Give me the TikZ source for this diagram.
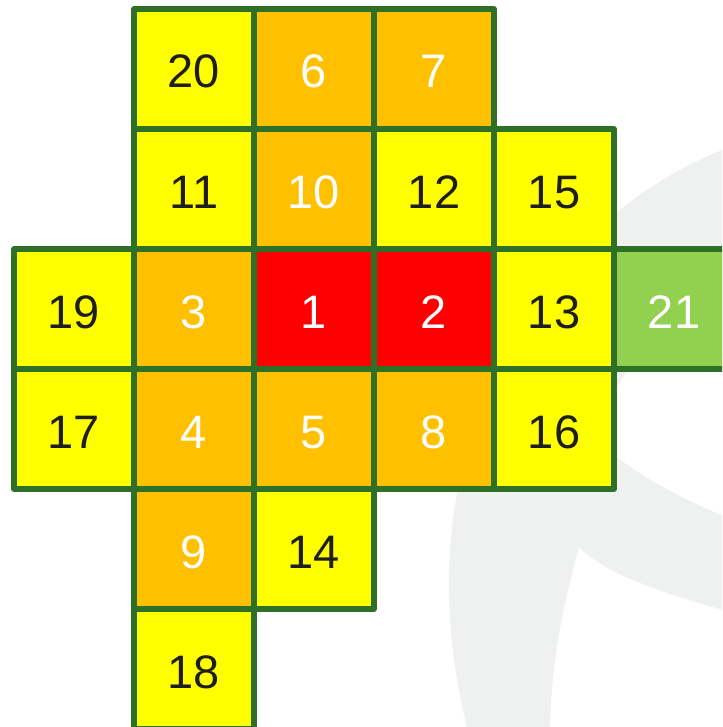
\documentclass[tikz,border=0pt]{standalone}
\usepackage{fontspec}
\setmainfont{Liberation Sans}
\definecolor{gridgreen}{RGB}{46,112,38}
\definecolor{cyel}{RGB}{255,255,0}
\definecolor{cora}{RGB}{255,192,0}
\definecolor{cred}{RGB}{255,0,0}
\definecolor{cgrn}{RGB}{146,208,80}
\definecolor{bggray}{RGB}{239,240,240}
\definecolor{darktxt}{RGB}{30,30,30}
\tikzset{
  cell/.style={draw=gridgreen, line width=2.6pt, line join=round, minimum size=60pt, inner sep=0pt, anchor=center, text height=19pt, text depth=0pt, font=\fontsize{23.5}{23.5}\selectfont},
  ycell/.style={cell, fill=cyel, text=darktxt},
  ocell/.style={cell, fill=cora, text=white},
  rcell/.style={cell, fill=cred, text=white},
  gcell/.style={cell, fill=cgrn, text=white}
}
\begin{document}
\begin{tikzpicture}[x=0.5pt,y=-0.5pt]
\useasboundingbox (0,0) rectangle (722,727);
\clip (0,0) rectangle (722,727);
% background logo shape
\fill[bggray] (740,143) -- (722,150) .. controls (560,215) and (455,380) .. (449,570)
  .. controls (447,640) and (460,700) .. (470,740) -- (740,740) -- cycle;
\fill[white] (740,300) .. controls (650,320) and (590,400) .. (607,450)
  .. controls (640,475) and (680,500) .. (740,522) -- cycle;
\fill[white] (740,615) -- (730,612) .. controls (650,590) and (600,570) .. (579,547)
  .. controls (565,600) and (550,660) .. (550,740) -- (740,740) -- cycle;
% cells (centres at 74+120c, 69+120r)
\node[ycell] (n20) at (194,69) {20};
\node[ocell] (n6)  at (314,69) {6};
\node[ocell] (n7)  at (434,69) {7};
\node[ycell] (n11) at (194,189) {11};
\node[ocell] (n10) at (314,189) {10};
\node[ycell] (n12) at (434,189) {12};
\node[ycell] (n15) at (554,189) {15};
\node[ycell] (n19) at (74,309) {19};
\node[ocell] (n3)  at (194,309) {3};
\node[rcell] (n1)  at (314,309) {1};
\node[rcell] (n2)  at (434,309) {2};
\node[ycell] (n13) at (554,309) {13};
\node[gcell] (n21) at (674,309) {21};
\node[ycell] (n17) at (74,429) {17};
\node[ocell] (n4)  at (194,429) {4};
\node[ocell] (n5)  at (314,429) {5};
\node[ocell] (n8)  at (434,429) {8};
\node[ycell] (n16) at (554,429) {16};
\node[ocell] (n9)  at (194,549) {9};
\node[ycell] (n14) at (314,549) {14};
\node[ycell] (n18) at (194,669) {18};
\end{tikzpicture}
\end{document}
